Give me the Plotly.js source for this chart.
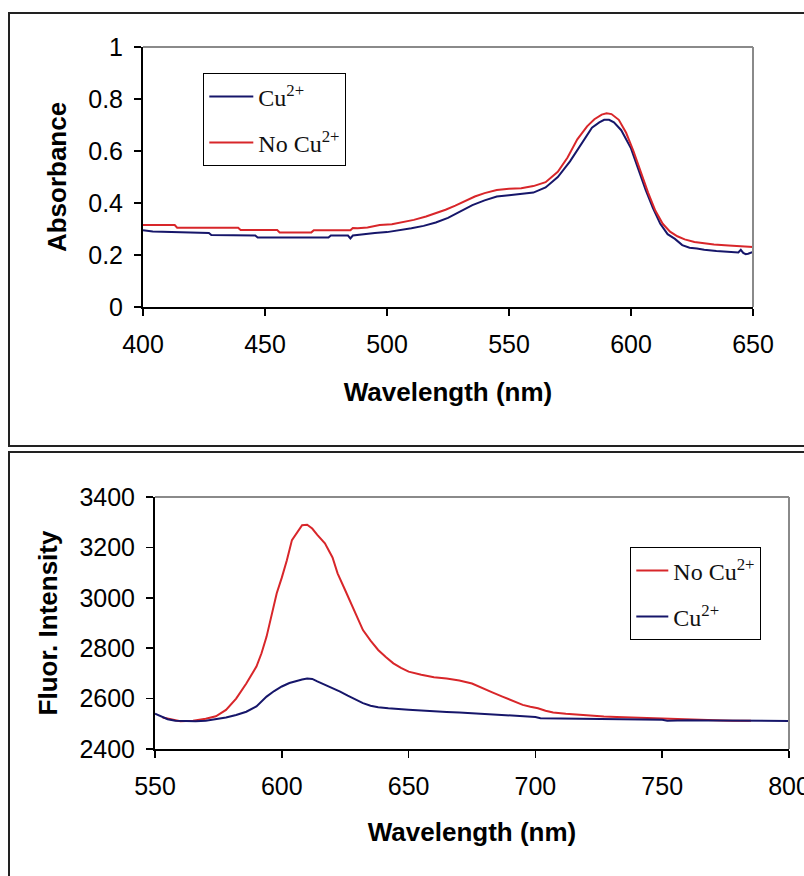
<!DOCTYPE html>
<html>
<head>
<meta charset="utf-8">
<script src="https://cdn.plot.ly/plotly-3.0.1.min.js"></script>
<style>
  html, body { margin: 0; padding: 0; background: #ffffff; }
  #chart { width: 804px; height: 876px; }
</style>
</head>
<body>
<div id="chart"></div>
<script>
// ---- Absorbance spectra (upper panel) ----
const absTickVals = [400, 450, 500, 550, 600, 650];
const absYTicks = [0, 0.2, 0.4, 0.6, 0.8, 1];

const absCuWl = [400, 404, 427, 428, 446, 447, 476, 477, 484, 485, 486, 490, 495, 500, 505, 510, 515, 520, 525, 530, 535, 540, 545, 550, 555, 560, 565, 570, 575, 580, 584, 587, 589, 591, 593, 596, 600, 603, 606, 609, 612, 615, 618, 621, 624, 627, 630, 635, 640, 644, 645, 646, 647, 648, 650];
const absCuVal = [0.295, 0.29, 0.285, 0.277, 0.275, 0.267, 0.267, 0.275, 0.275, 0.264, 0.275, 0.28, 0.285, 0.288, 0.295, 0.303, 0.312, 0.325, 0.343, 0.368, 0.392, 0.41, 0.425, 0.43, 0.435, 0.44, 0.46, 0.5, 0.56, 0.635, 0.69, 0.71, 0.72, 0.72, 0.71, 0.68, 0.61, 0.53, 0.45, 0.38, 0.32, 0.28, 0.262, 0.238, 0.228, 0.225, 0.22, 0.215, 0.213, 0.21, 0.22, 0.208, 0.203, 0.205, 0.212];

const absNoCuWl = [400, 413, 414, 439, 440, 455, 456, 469, 470, 485, 486, 488, 492, 497, 502, 507, 511, 516, 520, 524, 528, 532, 536, 540, 545, 550, 555, 560, 565, 570, 574, 578, 582, 585, 588, 590, 592, 595, 598, 601, 604, 607, 610, 613, 616, 619, 622, 626, 630, 634, 640, 645, 650];
const absNoCuVal = [0.315, 0.315, 0.305, 0.305, 0.296, 0.296, 0.287, 0.287, 0.295, 0.295, 0.304, 0.303, 0.306, 0.315, 0.318, 0.327, 0.335, 0.348, 0.36, 0.374, 0.39, 0.408, 0.425, 0.438, 0.45, 0.455, 0.457, 0.465, 0.48, 0.52, 0.575, 0.645, 0.695, 0.722, 0.74, 0.745, 0.742, 0.72, 0.67, 0.6, 0.52, 0.44, 0.37, 0.32, 0.29, 0.272, 0.26, 0.25, 0.245, 0.24, 0.237, 0.235, 0.231];

// ---- Fluorescence emission spectra (lower panel) ----
const flTickVals = [550, 600, 650, 700, 750, 800];
const flYTicks = [2400, 2600, 2800, 3000, 3200, 3400];

const flNoCuWl = [553, 556, 560, 565, 570, 574, 578, 582, 586, 590, 592, 594, 596, 598, 600, 602, 604, 606, 608, 610, 612, 614, 617, 620, 622, 625, 628, 632, 635, 638, 641, 644, 647, 650, 655, 660, 665, 670, 675, 679, 683, 687, 691, 695, 698, 701, 704, 707, 712, 717, 722, 727, 732, 737, 742, 747, 752, 757, 762, 766, 770, 774, 778, 782, 785];
const flNoCuVal = [2525, 2518, 2510, 2512, 2520, 2530, 2555, 2600, 2660, 2727, 2780, 2846, 2930, 3018, 3080, 3149, 3229, 3260, 3288, 3290, 3275, 3250, 3216, 3160, 3097, 3030, 2965, 2872, 2830, 2793, 2765, 2740, 2722, 2707, 2695, 2685, 2680, 2672, 2660, 2641, 2625, 2608, 2590, 2575, 2568, 2562, 2552, 2545, 2540, 2536, 2533, 2529, 2527, 2525, 2523, 2522, 2520, 2518, 2516, 2515, 2513, 2513, 2512, 2512, 2512];

const flCuWl = [550, 552, 555, 558, 562, 566, 570, 574, 578, 582, 586, 590, 592, 594, 597, 600, 603, 606, 608, 610, 612, 614, 617, 620, 623, 626, 629, 632, 635, 638, 642, 646, 650, 655, 660, 665, 670, 675, 680, 685, 690, 695, 700, 702, 710, 720, 730, 740, 750, 752, 760, 770, 780, 790, 800];
const flCuVal = [2540, 2532, 2518, 2512, 2510, 2510, 2512, 2518, 2525, 2535, 2548, 2569, 2590, 2608, 2630, 2648, 2662, 2672, 2676, 2680, 2678, 2668, 2655, 2641, 2628, 2612, 2598, 2582, 2572, 2566, 2562, 2558, 2556, 2553, 2549, 2547, 2545, 2542, 2540, 2537, 2533, 2530, 2527, 2522, 2521, 2520, 2518, 2517, 2516, 2512, 2514, 2513, 2512, 2511, 2511];

const NAVY = '#16166a';
const RED = '#d8262a';

const W = 804, H = 876;
const px = v => v / W;          // horizontal pixel -> paper fraction
const py = v => 1 - v / H;      // vertical pixel (from top) -> paper fraction

const traces = [
  { x: absCuWl, y: absCuVal, xaxis: 'x', yaxis: 'y', mode: 'lines', name: 'Cu<sup>2+</sup>',
    line: { color: NAVY, width: 2 }, legend: 'legend', legendgroup: 'a1' },
  { x: absNoCuWl, y: absNoCuVal, xaxis: 'x', yaxis: 'y', mode: 'lines', name: 'No Cu<sup>2+</sup>',
    line: { color: RED, width: 2 }, legend: 'legend', legendgroup: 'a2' },
  { x: flNoCuWl, y: flNoCuVal, xaxis: 'x2', yaxis: 'y2', mode: 'lines', name: 'No Cu<sup>2+</sup>',
    line: { color: RED, width: 2 }, legend: 'legend2', legendgroup: 'f1' },
  { x: flCuWl, y: flCuVal, xaxis: 'x2', yaxis: 'y2', mode: 'lines', name: 'Cu<sup>2+</sup>',
    line: { color: NAVY, width: 2 }, legend: 'legend2', legendgroup: 'f2' }
];

const tickFont = { family: 'Liberation Sans, Arial, sans-serif', size: 25, color: '#000' };
const titleFont = { family: 'Liberation Sans, Arial, sans-serif', size: 26, color: '#000', weight: 'bold' };

function xAxis(domain, range, vals, anchor, standoff) {
  return {
    domain: domain, range: range, anchor: anchor,
    tickmode: 'array', tickvals: vals, ticktext: vals.map(String),
    ticks: 'outside', ticklen: 7, tickwidth: 1.5, tickcolor: '#000',
    showline: true, linecolor: '#000', linewidth: 2,
    showgrid: false, zeroline: false, tickfont: tickFont,
    ticklabelstandoff: 7, ticklabeloverflow: 'allow',
    title: { text: 'Wavelength (nm)', font: titleFont, standoff: standoff }
  };
}
function yAxis(domain, range, vals, anchor, title) {
  return {
    domain: domain, range: range, anchor: anchor,
    tickmode: 'array', tickvals: vals, ticktext: vals.map(String),
    ticks: 'outside', ticklen: 7, tickwidth: 1.5, tickcolor: '#000',
    showline: true, linecolor: '#000', linewidth: 2,
    showgrid: false, zeroline: false, tickfont: tickFont,
    ticklabelstandoff: 6, ticklabeloverflow: 'allow',
    title: { text: title, font: titleFont, standoff: 14 }
  };
}

const legendFont = { family: 'Liberation Serif, Times New Roman, serif', size: 24, color: '#111' };

const layout = {
  width: W, height: H,
  margin: { l: 0, r: 0, t: 0, b: 0 },
  paper_bgcolor: '#ffffff', plot_bgcolor: '#ffffff',
  showlegend: true,
  xaxis: xAxis([px(143), px(753)], [400, 650], absTickVals, 'y', 26),
  yaxis: yAxis([py(307), py(47)], [0, 1], absYTicks, 'x', 'Absorbance'),
  xaxis2: xAxis([px(155), px(789)], [550, 800], flTickVals, 'y2', 24),
  yaxis2: yAxis([py(749), py(497)], [2400, 3400], flYTicks, 'x2', 'Fluor. Intensity'),
  legend: {
    x: px(203), y: py(73), xanchor: 'left', yanchor: 'top',
    bgcolor: '#ffffff', bordercolor: '#000', borderwidth: 1.3,
    font: legendFont, itemwidth: 44, traceorder: 'grouped', tracegroupgap: 12,
    entrywidth: 148, entrywidthmode: 'pixels'
  },
  legend2: {
    x: px(630), y: py(547), xanchor: 'left', yanchor: 'top',
    bgcolor: '#ffffff', bordercolor: '#000', borderwidth: 1.3,
    font: legendFont, itemwidth: 32, traceorder: 'grouped', tracegroupgap: 12,
    entrywidth: 143, entrywidthmode: 'pixels'
  },
  shapes: [
    // panel frames
    { type: 'rect', xref: 'paper', yref: 'paper', x0: px(9), x1: 1.02, y0: py(446), y1: py(13),
      line: { color: '#222', width: 2 }, layer: 'below' },
    { type: 'rect', xref: 'paper', yref: 'paper', x0: px(9), x1: 1.02, y0: -0.02, y1: py(452),
      line: { color: '#222', width: 2 }, layer: 'below' },
    // grey top and right edges of each plot area
    { type: 'line', xref: 'x domain', yref: 'y domain', x0: 0, x1: 1, y0: 1, y1: 1, line: { color: '#8a8a8a', width: 2 } },
    { type: 'line', xref: 'x domain', yref: 'y domain', x0: 1, x1: 1, y0: 0, y1: 1, line: { color: '#8a8a8a', width: 2 } },
    { type: 'line', xref: 'x2 domain', yref: 'y2 domain', x0: 0, x1: 1, y0: 1, y1: 1, line: { color: '#8a8a8a', width: 2 } },
    { type: 'line', xref: 'x2 domain', yref: 'y2 domain', x0: 1, x1: 1, y0: 0, y1: 1, line: { color: '#8a8a8a', width: 2 } }
  ]
};

Plotly.newPlot('chart', traces, layout, { staticPlot: true, displayModeBar: false });
</script>
</body>
</html>
